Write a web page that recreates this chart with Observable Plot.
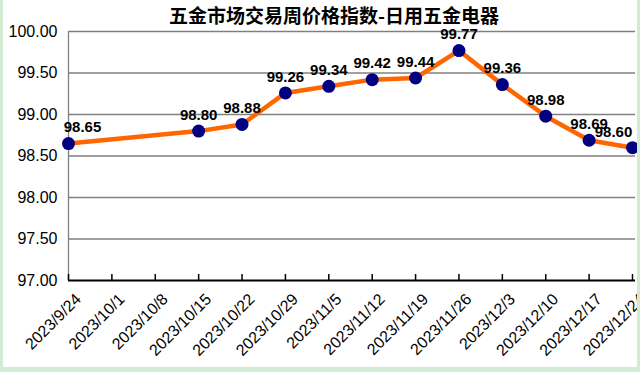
<!DOCTYPE html>
<html>
<head>
<meta charset="utf-8">
<script src="https://cdn.jsdelivr.net/npm/d3@7"></script>
<script src="https://cdn.jsdelivr.net/npm/@observablehq/plot@0.6"></script>
<style>
  html, body { margin: 0; padding: 0; background: #d3ebd3; width: 640px; height: 372px; overflow: hidden; }
  #card { position: absolute; left: 3px; top: 0; width: 634px; height: 367px; background: #ffffff; overflow: hidden; }
  #title { position: absolute; left: 0; top: 3px; width: 634px; text-align: center; padding-left: 28px; box-sizing: border-box; z-index: 2;
           font-family: "Noto Sans CJK SC", sans-serif; font-weight: bold; font-size: 19px; line-height: 24px; color: #000; }
  #chart { position: absolute; left: 0; top: 0; z-index: 1; }
  #chart svg { overflow: visible; }
</style>
</head>
<body>
<div id="card">
  <div id="chart"></div>
  <div id="title">五金市场交易周价格指数-日用五金电器</div>
</div>
<script>
const weekDates = ["2023-09-24","2023-10-15","2023-10-22","2023-10-29","2023-11-05","2023-11-12","2023-11-19","2023-11-26","2023-12-03","2023-12-10","2023-12-17","2023-12-24"];
const indexValues = [98.65, 98.80, 98.88, 99.26, 99.34, 99.42, 99.44, 99.77, 99.36, 98.98, 98.69, 98.60];
const tickDates = ["2023-09-24","2023-10-01","2023-10-08","2023-10-15","2023-10-22","2023-10-29","2023-11-05","2023-11-12","2023-11-19","2023-11-26","2023-12-03","2023-12-10","2023-12-17","2023-12-24"];
const yTicks = [97.0, 97.5, 98.0, 98.5, 99.0, 99.5, 100.0];

const parse = d3.utcParse("%Y-%m-%d");
const fmt = d3.utcFormat("%Y/%-m/%-d");
const data = weekDates.map((d, i) => ({date: parse(d), value: indexValues[i]}));
const ticks = tickDates.map(parse);
const firstDate = data[0].date;
const lastDate = data[data.length - 1].date;

const W = 634, H = 367, mT = 31, mB = 87, mL = 65, mR = 2;
const plotH = H - mT - mB;
const labelStyle = {x: "date", y: "value", text: d => d.value.toFixed(2), dy: -16, fontSize: 15, fontWeight: "bold", fill: "#000"};

const chart = Plot.plot({
  width: W, height: H,
  marginTop: mT, marginBottom: mB, marginLeft: mL, marginRight: mR,
  style: {fontFamily: "'Liberation Sans', Arial, sans-serif", fontSize: "16px", color: "#000", background: "transparent", overflow: "visible"},
  x: {type: "utc", domain: [ticks[0], ticks[ticks.length - 1]], insetRight: 3, label: null},
  y: {domain: [yTicks[0], yTicks[yTicks.length - 1]], label: null},
  marks: [
    Plot.ruleY(yTicks.slice(1), {stroke: "#808080", strokeWidth: 1.3}),
    Plot.ruleX([ticks[0]], {stroke: "#808080", strokeWidth: 1.3}),
    Plot.ruleY([yTicks[0]], {stroke: "#000", strokeWidth: 2}),
    Plot.tickX(ticks, {x: d => d, stroke: "#000", strokeWidth: 1.5, insetTop: plotH - 6}),
    Plot.axisY({ticks: yTicks, tickFormat: d => d.toFixed(2), tickSize: 0, tickPadding: 11, fontSize: 16, fill: "#000", label: null}),
    Plot.axisX({ticks: ticks, tickFormat: fmt, tickRotate: -45, tickSize: 0, tickPadding: 16, dx: 10, fontSize: 16, fill: "#000", label: null}),
    Plot.line(data, {x: "date", y: "value", stroke: "#ff6600", strokeWidth: 4.5}),
    Plot.dot(data, {x: "date", y: "value", r: 6.5, fill: "#000080", stroke: "none"}),
    Plot.text(data.filter(d => d.date > firstDate && d.date < lastDate), labelStyle),
    Plot.text(data.filter(d => +d.date === +firstDate), {...labelStyle, dx: 14}),
    Plot.text(data.filter(d => +d.date === +lastDate), {...labelStyle, dx: -19})
  ]
});
document.getElementById("chart").appendChild(chart);
</script>
</body>
</html>
